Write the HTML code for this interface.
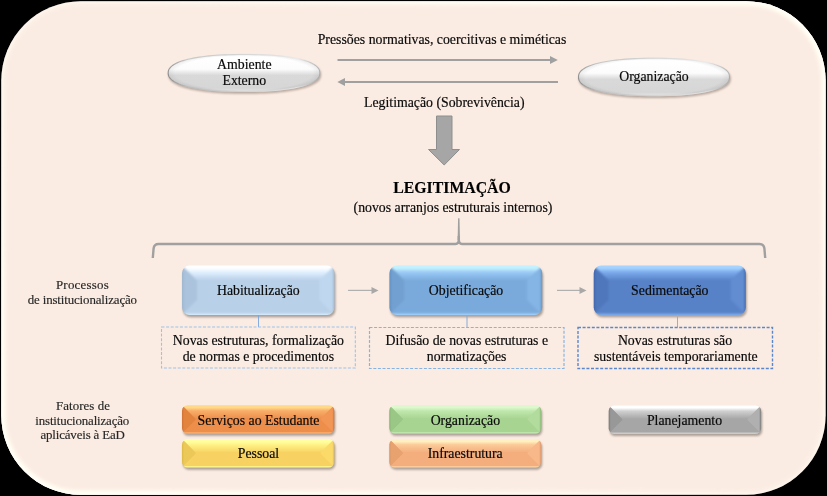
<!DOCTYPE html>
<html><head><meta charset="utf-8"><style>
html,body{margin:0;padding:0;background:#000;width:827px;height:496px;overflow:hidden}
svg{display:block}
text{-webkit-font-smoothing:antialiased}
.txt{will-change:transform}
</style></head><body>
<svg width="827" height="496" viewBox="0 0 827 496">
<defs>
<filter id="blur2" x="-10%" y="-50%" width="120%" height="200%"><feGaussianBlur stdDeviation="1.3"/></filter>
<filter id="soft" x="-10%" y="-50%" width="120%" height="200%"><feGaussianBlur stdDeviation="0.9"/></filter>
<filter id="soft2" x="-10%" y="-50%" width="120%" height="200%"><feGaussianBlur stdDeviation="0.55"/></filter>
<filter id="blur3" x="-10%" y="-10%" width="120%" height="120%"><feGaussianBlur stdDeviation="1.5"/></filter>
<linearGradient id="ell" x1="0" y1="0" x2="0" y2="1">
 <stop offset="0" stop-color="#f2f2f2"/><stop offset="0.08" stop-color="#ffffff"/><stop offset="0.4" stop-color="#fcfcfc"/><stop offset="0.47" stop-color="#ececec"/><stop offset="0.56" stop-color="#d9d9d9"/><stop offset="0.9" stop-color="#d6d6d6"/><stop offset="1" stop-color="#e6e6e6"/>
</linearGradient>
<radialGradient id="ellr" cx="0.5" cy="0.5" r="0.5">
 <stop offset="0" stop-color="#000" stop-opacity="0"/><stop offset="0.9" stop-color="#000" stop-opacity="0"/><stop offset="1" stop-color="#000" stop-opacity="0.06"/>
</radialGradient>
<linearGradient id="ells" x1="0" y1="0" x2="1" y2="0">
 <stop offset="0" stop-color="#7a7a7a"/><stop offset="0.12" stop-color="#b8b8b8"/><stop offset="0.5" stop-color="#d0d0d0"/><stop offset="0.85" stop-color="#e8e8e8"/><stop offset="1" stop-color="#a0a0a0"/>
</linearGradient>
<clipPath id="bgclip"><rect x="1.3" y="1.2" width="824.3" height="493.6" rx="79.5"/></clipPath>
<linearGradient id="rimg" x1="0" y1="0" x2="1" y2="1">
 <stop offset="0" stop-color="#fffcf0" stop-opacity="0.15"/><stop offset="0.5" stop-color="#fffcf0" stop-opacity="1"/><stop offset="1" stop-color="#fffcf0" stop-opacity="0.1"/>
</linearGradient>
<linearGradient id="rimg2" x1="0" y1="0" x2="1" y2="1">
 <stop offset="0" stop-color="#fffdf5" stop-opacity="0.2"/><stop offset="0.5" stop-color="#fffdf5" stop-opacity="1"/><stop offset="1" stop-color="#fffdf5" stop-opacity="0.2"/>
</linearGradient>
<linearGradient id="tp1" x1="0" y1="265.5" x2="0" y2="280.5" gradientUnits="userSpaceOnUse"><stop offset="0" stop-color="#ffffff"/><stop offset="0.18" stop-color="#ffffff"/><stop offset="0.42" stop-color="#e2f1ff"/><stop offset="1" stop-color="#b8d0e8"/></linearGradient>
<linearGradient id="lp1" x1="182" y1="0" x2="197" y2="0" gradientUnits="userSpaceOnUse"><stop offset="0" stop-color="#9cb4cc"/><stop offset="0.15" stop-color="#abc3dc"/><stop offset="1" stop-color="#abc3dc"/></linearGradient>
<linearGradient id="rp1" x1="319.5" y1="0" x2="334.5" y2="0" gradientUnits="userSpaceOnUse"><stop offset="0" stop-color="#c0d8ef"/><stop offset="0.85" stop-color="#c0d8ef"/><stop offset="1" stop-color="#9cb4cc"/></linearGradient>
<clipPath id="cp1"><rect x="182" y="265.5" width="152.5" height="49.5" rx="7.5"/></clipPath>
<linearGradient id="tp2" x1="0" y1="265.5" x2="0" y2="280.5" gradientUnits="userSpaceOnUse"><stop offset="0" stop-color="#c4f2ff"/><stop offset="0.18" stop-color="#c4f2ff"/><stop offset="0.42" stop-color="#9cccf6"/><stop offset="1" stop-color="#7aaadb"/></linearGradient>
<linearGradient id="lp2" x1="389.4" y1="0" x2="404.4" y2="0" gradientUnits="userSpaceOnUse"><stop offset="0" stop-color="#5f8fbf"/><stop offset="0.15" stop-color="#72a0d0"/><stop offset="1" stop-color="#72a0d0"/></linearGradient>
<linearGradient id="rp2" x1="527.2" y1="0" x2="542.2" y2="0" gradientUnits="userSpaceOnUse"><stop offset="0" stop-color="#84b5e5"/><stop offset="0.85" stop-color="#84b5e5"/><stop offset="1" stop-color="#5f8fbf"/></linearGradient>
<clipPath id="cp2"><rect x="389.4" y="265.5" width="152.80000000000007" height="49.5" rx="7.5"/></clipPath>
<linearGradient id="tp3" x1="0" y1="265.5" x2="0" y2="280.5" gradientUnits="userSpaceOnUse"><stop offset="0" stop-color="#a6d4ff"/><stop offset="0.18" stop-color="#a6d4ff"/><stop offset="0.42" stop-color="#7eacee"/><stop offset="1" stop-color="#5882c7"/></linearGradient>
<linearGradient id="lp3" x1="593.7" y1="0" x2="608.7" y2="0" gradientUnits="userSpaceOnUse"><stop offset="0" stop-color="#3c64aa"/><stop offset="0.15" stop-color="#5078bc"/><stop offset="1" stop-color="#5078bc"/></linearGradient>
<linearGradient id="rp3" x1="730.8" y1="0" x2="745.8" y2="0" gradientUnits="userSpaceOnUse"><stop offset="0" stop-color="#628dd1"/><stop offset="0.85" stop-color="#628dd1"/><stop offset="1" stop-color="#3c64aa"/></linearGradient>
<clipPath id="cp3"><rect x="593.7" y="265.5" width="152.0999999999999" height="49.5" rx="7.5"/></clipPath>
<linearGradient id="tf1" x1="0" y1="405.2" x2="0" y2="418.7" gradientUnits="userSpaceOnUse"><stop offset="0" stop-color="#ffd888"/><stop offset="0.18" stop-color="#ffd888"/><stop offset="0.42" stop-color="#f8ae6a"/><stop offset="1" stop-color="#ee8e4c"/></linearGradient>
<linearGradient id="lf1" x1="182" y1="0" x2="195.5" y2="0" gradientUnits="userSpaceOnUse"><stop offset="0" stop-color="#d07236"/><stop offset="0.15" stop-color="#e2843e"/><stop offset="1" stop-color="#e2843e"/></linearGradient>
<linearGradient id="rf1" x1="320.8" y1="0" x2="334.3" y2="0" gradientUnits="userSpaceOnUse"><stop offset="0" stop-color="#f29654"/><stop offset="0.85" stop-color="#f29654"/><stop offset="1" stop-color="#d07236"/></linearGradient>
<clipPath id="cf1"><rect x="182" y="405.2" width="152.3" height="28.400000000000034" rx="5.5"/></clipPath>
<linearGradient id="tf2" x1="0" y1="439.1" x2="0" y2="452.6" gradientUnits="userSpaceOnUse"><stop offset="0" stop-color="#ffffa0"/><stop offset="0.18" stop-color="#ffffa0"/><stop offset="0.42" stop-color="#fff286"/><stop offset="1" stop-color="#f7d262"/></linearGradient>
<linearGradient id="lf2" x1="182" y1="0" x2="195.5" y2="0" gradientUnits="userSpaceOnUse"><stop offset="0" stop-color="#dcb848"/><stop offset="0.15" stop-color="#ecc858"/><stop offset="1" stop-color="#ecc858"/></linearGradient>
<linearGradient id="rf2" x1="320.8" y1="0" x2="334.3" y2="0" gradientUnits="userSpaceOnUse"><stop offset="0" stop-color="#fcda6a"/><stop offset="0.85" stop-color="#fcda6a"/><stop offset="1" stop-color="#dcb848"/></linearGradient>
<clipPath id="cf2"><rect x="182" y="439.1" width="152.3" height="28.399999999999977" rx="5.5"/></clipPath>
<linearGradient id="tf3" x1="0" y1="405.2" x2="0" y2="418.7" gradientUnits="userSpaceOnUse"><stop offset="0" stop-color="#dcf8cc"/><stop offset="0.18" stop-color="#dcf8cc"/><stop offset="0.42" stop-color="#c0e8ae"/><stop offset="1" stop-color="#a8d492"/></linearGradient>
<linearGradient id="lf3" x1="389.3" y1="0" x2="402.8" y2="0" gradientUnits="userSpaceOnUse"><stop offset="0" stop-color="#88b474"/><stop offset="0.15" stop-color="#9ac686"/><stop offset="1" stop-color="#9ac686"/></linearGradient>
<linearGradient id="rf3" x1="527.7" y1="0" x2="541.2" y2="0" gradientUnits="userSpaceOnUse"><stop offset="0" stop-color="#b2dc9e"/><stop offset="0.85" stop-color="#b2dc9e"/><stop offset="1" stop-color="#88b474"/></linearGradient>
<clipPath id="cf3"><rect x="389.3" y="405.2" width="151.90000000000003" height="28.400000000000034" rx="5.5"/></clipPath>
<linearGradient id="tf4" x1="0" y1="439.1" x2="0" y2="452.6" gradientUnits="userSpaceOnUse"><stop offset="0" stop-color="#fff0c0"/><stop offset="0.18" stop-color="#fff0c0"/><stop offset="0.42" stop-color="#fcca98"/><stop offset="1" stop-color="#f4ae7e"/></linearGradient>
<linearGradient id="lf4" x1="389.3" y1="0" x2="402.8" y2="0" gradientUnits="userSpaceOnUse"><stop offset="0" stop-color="#d89468"/><stop offset="0.15" stop-color="#e8a270"/><stop offset="1" stop-color="#e8a270"/></linearGradient>
<linearGradient id="rf4" x1="527.7" y1="0" x2="541.2" y2="0" gradientUnits="userSpaceOnUse"><stop offset="0" stop-color="#f8b88a"/><stop offset="0.85" stop-color="#f8b88a"/><stop offset="1" stop-color="#d89468"/></linearGradient>
<clipPath id="cf4"><rect x="389.3" y="439.1" width="151.90000000000003" height="28.399999999999977" rx="5.5"/></clipPath>
<linearGradient id="tf5" x1="0" y1="405.4" x2="0" y2="418.9" gradientUnits="userSpaceOnUse"><stop offset="0" stop-color="#ffffff"/><stop offset="0.18" stop-color="#ffffff"/><stop offset="0.42" stop-color="#d0d0d0"/><stop offset="1" stop-color="#a6a6a6"/></linearGradient>
<linearGradient id="lf5" x1="608.7" y1="0" x2="622.2" y2="0" gradientUnits="userSpaceOnUse"><stop offset="0" stop-color="#787878"/><stop offset="0.15" stop-color="#989898"/><stop offset="1" stop-color="#989898"/></linearGradient>
<linearGradient id="rf5" x1="747.6" y1="0" x2="761.1" y2="0" gradientUnits="userSpaceOnUse"><stop offset="0" stop-color="#b0b0b0"/><stop offset="0.85" stop-color="#b0b0b0"/><stop offset="1" stop-color="#787878"/></linearGradient>
<clipPath id="cf5"><rect x="608.7" y="405.4" width="152.39999999999998" height="28.400000000000034" rx="5.5"/></clipPath></defs>
<rect x="1.3" y="1.2" width="824.3" height="493.6" rx="79.5" fill="#fbece3"/>
<g clip-path="url(#bgclip)"><rect x="1.3" y="1.2" width="824.3" height="493.6" rx="79.5" fill="none" stroke="url(#rimg)" stroke-width="10" filter="url(#blur3)"/><rect x="1.3" y="1.2" width="824.3" height="493.6" rx="79.5" fill="none" stroke="url(#rimg2)" stroke-width="5.5"/></g>
<path d="M321.10,74.80 L321.01,76.26 L320.74,77.47 L320.28,78.59 L319.65,79.65 L318.83,80.67 L317.84,81.64 L316.67,82.58 L315.33,83.49 L313.81,84.36 L312.13,85.20 L310.28,86.00 L308.26,86.77 L306.08,87.50 L303.74,88.20 L301.25,88.86 L298.60,89.48 L295.81,90.06 L292.87,90.60 L289.78,91.10 L286.56,91.57 L283.20,91.99 L279.70,92.36 L276.06,92.70 L272.28,92.99 L268.36,93.24 L264.27,93.44 L260.00,93.60 L255.51,93.71 L250.67,93.78 L244.80,93.80 L238.93,93.78 L234.09,93.71 L229.60,93.60 L225.33,93.44 L221.24,93.24 L217.32,92.99 L213.54,92.70 L209.90,92.36 L206.40,91.99 L203.04,91.57 L199.82,91.10 L196.73,90.60 L193.79,90.06 L191.00,89.48 L188.35,88.86 L185.86,88.20 L183.52,87.50 L181.34,86.77 L179.32,86.00 L177.47,85.20 L175.79,84.36 L174.27,83.49 L172.93,82.58 L171.76,81.64 L170.77,80.67 L169.95,79.65 L169.32,78.59 L168.86,77.47 L168.59,76.26 L168.50,74.80 L168.59,73.34 L168.86,72.13 L169.32,71.01 L169.95,69.95 L170.77,68.93 L171.76,67.96 L172.93,67.02 L174.27,66.11 L175.79,65.24 L177.47,64.40 L179.32,63.60 L181.34,62.83 L183.52,62.10 L185.86,61.40 L188.35,60.74 L191.00,60.12 L193.79,59.54 L196.73,59.00 L199.82,58.50 L203.04,58.03 L206.40,57.61 L209.90,57.24 L213.54,56.90 L217.32,56.61 L221.24,56.36 L225.33,56.16 L229.60,56.00 L234.09,55.89 L238.93,55.82 L244.80,55.80 L250.67,55.82 L255.51,55.89 L260.00,56.00 L264.27,56.16 L268.36,56.36 L272.28,56.61 L276.06,56.90 L279.70,57.24 L283.20,57.61 L286.56,58.03 L289.78,58.50 L292.87,59.00 L295.81,59.54 L298.60,60.12 L301.25,60.74 L303.74,61.40 L306.08,62.10 L308.26,62.83 L310.28,63.60 L312.13,64.40 L313.81,65.24 L315.33,66.11 L316.67,67.02 L317.84,67.96 L318.83,68.93 L319.65,69.95 L320.28,71.01 L320.74,72.13 L321.01,73.34Z" fill="#5a4a40" opacity="0.42" filter="url(#blur2)"/><path d="M320.30,73.00 L320.21,74.46 L319.94,75.67 L319.48,76.79 L318.85,77.85 L318.03,78.87 L317.04,79.84 L315.87,80.78 L314.53,81.69 L313.01,82.56 L311.33,83.40 L309.48,84.20 L307.46,84.97 L305.28,85.70 L302.94,86.40 L300.45,87.06 L297.80,87.68 L295.01,88.26 L292.07,88.80 L288.98,89.30 L285.76,89.77 L282.40,90.19 L278.90,90.56 L275.26,90.90 L271.48,91.19 L267.56,91.44 L263.47,91.64 L259.20,91.80 L254.71,91.91 L249.87,91.98 L244.00,92.00 L238.13,91.98 L233.29,91.91 L228.80,91.80 L224.53,91.64 L220.44,91.44 L216.52,91.19 L212.74,90.90 L209.10,90.56 L205.60,90.19 L202.24,89.77 L199.02,89.30 L195.93,88.80 L192.99,88.26 L190.20,87.68 L187.55,87.06 L185.06,86.40 L182.72,85.70 L180.54,84.97 L178.52,84.20 L176.67,83.40 L174.99,82.56 L173.47,81.69 L172.13,80.78 L170.96,79.84 L169.97,78.87 L169.15,77.85 L168.52,76.79 L168.06,75.67 L167.79,74.46 L167.70,73.00 L167.79,71.54 L168.06,70.33 L168.52,69.21 L169.15,68.15 L169.97,67.13 L170.96,66.16 L172.13,65.22 L173.47,64.31 L174.99,63.44 L176.67,62.60 L178.52,61.80 L180.54,61.03 L182.72,60.30 L185.06,59.60 L187.55,58.94 L190.20,58.32 L192.99,57.74 L195.93,57.20 L199.02,56.70 L202.24,56.23 L205.60,55.81 L209.10,55.44 L212.74,55.10 L216.52,54.81 L220.44,54.56 L224.53,54.36 L228.80,54.20 L233.29,54.09 L238.13,54.02 L244.00,54.00 L249.87,54.02 L254.71,54.09 L259.20,54.20 L263.47,54.36 L267.56,54.56 L271.48,54.81 L275.26,55.10 L278.90,55.44 L282.40,55.81 L285.76,56.23 L288.98,56.70 L292.07,57.20 L295.01,57.74 L297.80,58.32 L300.45,58.94 L302.94,59.60 L305.28,60.30 L307.46,61.03 L309.48,61.80 L311.33,62.60 L313.01,63.44 L314.53,64.31 L315.87,65.22 L317.04,66.16 L318.03,67.13 L318.85,68.15 L319.48,69.21 L319.94,70.33 L320.21,71.54Z" fill="url(#ell)"/><path d="M320.30,73.00 L320.21,74.46 L319.94,75.67 L319.48,76.79 L318.85,77.85 L318.03,78.87 L317.04,79.84 L315.87,80.78 L314.53,81.69 L313.01,82.56 L311.33,83.40 L309.48,84.20 L307.46,84.97 L305.28,85.70 L302.94,86.40 L300.45,87.06 L297.80,87.68 L295.01,88.26 L292.07,88.80 L288.98,89.30 L285.76,89.77 L282.40,90.19 L278.90,90.56 L275.26,90.90 L271.48,91.19 L267.56,91.44 L263.47,91.64 L259.20,91.80 L254.71,91.91 L249.87,91.98 L244.00,92.00 L238.13,91.98 L233.29,91.91 L228.80,91.80 L224.53,91.64 L220.44,91.44 L216.52,91.19 L212.74,90.90 L209.10,90.56 L205.60,90.19 L202.24,89.77 L199.02,89.30 L195.93,88.80 L192.99,88.26 L190.20,87.68 L187.55,87.06 L185.06,86.40 L182.72,85.70 L180.54,84.97 L178.52,84.20 L176.67,83.40 L174.99,82.56 L173.47,81.69 L172.13,80.78 L170.96,79.84 L169.97,78.87 L169.15,77.85 L168.52,76.79 L168.06,75.67 L167.79,74.46 L167.70,73.00 L167.79,71.54 L168.06,70.33 L168.52,69.21 L169.15,68.15 L169.97,67.13 L170.96,66.16 L172.13,65.22 L173.47,64.31 L174.99,63.44 L176.67,62.60 L178.52,61.80 L180.54,61.03 L182.72,60.30 L185.06,59.60 L187.55,58.94 L190.20,58.32 L192.99,57.74 L195.93,57.20 L199.02,56.70 L202.24,56.23 L205.60,55.81 L209.10,55.44 L212.74,55.10 L216.52,54.81 L220.44,54.56 L224.53,54.36 L228.80,54.20 L233.29,54.09 L238.13,54.02 L244.00,54.00 L249.87,54.02 L254.71,54.09 L259.20,54.20 L263.47,54.36 L267.56,54.56 L271.48,54.81 L275.26,55.10 L278.90,55.44 L282.40,55.81 L285.76,56.23 L288.98,56.70 L292.07,57.20 L295.01,57.74 L297.80,58.32 L300.45,58.94 L302.94,59.60 L305.28,60.30 L307.46,61.03 L309.48,61.80 L311.33,62.60 L313.01,63.44 L314.53,64.31 L315.87,65.22 L317.04,66.16 L318.03,67.13 L318.85,68.15 L319.48,69.21 L319.94,70.33 L320.21,71.54Z" fill="url(#ellr)"/><path d="M319.80,73.00 L319.71,74.42 L319.44,75.60 L318.99,76.69 L318.36,77.72 L317.55,78.71 L316.56,79.66 L315.40,80.58 L314.07,81.46 L312.56,82.31 L310.89,83.13 L309.05,83.91 L307.04,84.65 L304.88,85.37 L302.55,86.04 L300.08,86.69 L297.45,87.29 L294.67,87.86 L291.75,88.39 L288.69,88.88 L285.49,89.32 L282.15,89.73 L278.67,90.10 L275.05,90.43 L271.30,90.71 L267.40,90.95 L263.34,91.15 L259.10,91.30 L254.64,91.41 L249.83,91.48 L244.00,91.50 L238.17,91.48 L233.36,91.41 L228.90,91.30 L224.66,91.15 L220.60,90.95 L216.70,90.71 L212.95,90.43 L209.33,90.10 L205.85,89.73 L202.51,89.32 L199.31,88.88 L196.25,88.39 L193.33,87.86 L190.55,87.29 L187.92,86.69 L185.45,86.04 L183.12,85.37 L180.96,84.65 L178.95,83.91 L177.11,83.13 L175.44,82.31 L173.93,81.46 L172.60,80.58 L171.44,79.66 L170.45,78.71 L169.64,77.72 L169.01,76.69 L168.56,75.60 L168.29,74.42 L168.20,73.00 L168.29,71.58 L168.56,70.40 L169.01,69.31 L169.64,68.28 L170.45,67.29 L171.44,66.34 L172.60,65.42 L173.93,64.54 L175.44,63.69 L177.11,62.87 L178.95,62.09 L180.96,61.35 L183.12,60.63 L185.45,59.96 L187.92,59.31 L190.55,58.71 L193.33,58.14 L196.25,57.61 L199.31,57.12 L202.51,56.68 L205.85,56.27 L209.33,55.90 L212.95,55.57 L216.70,55.29 L220.60,55.05 L224.66,54.85 L228.90,54.70 L233.36,54.59 L238.17,54.52 L244.00,54.50 L249.83,54.52 L254.64,54.59 L259.10,54.70 L263.34,54.85 L267.40,55.05 L271.30,55.29 L275.05,55.57 L278.67,55.90 L282.15,56.27 L285.49,56.68 L288.69,57.12 L291.75,57.61 L294.67,58.14 L297.45,58.71 L300.08,59.31 L302.55,59.96 L304.88,60.63 L307.04,61.35 L309.05,62.09 L310.89,62.87 L312.56,63.69 L314.07,64.54 L315.40,65.42 L316.56,66.34 L317.55,67.29 L318.36,68.28 L318.99,69.31 L319.44,70.40 L319.71,71.58Z" fill="none" stroke="url(#ells)" stroke-width="1.1" opacity="0.75"/>
<path d="M730.80,78.80 L730.71,80.28 L730.44,81.49 L729.99,82.63 L729.35,83.70 L728.54,84.73 L727.55,85.72 L726.39,86.67 L725.05,87.58 L723.54,88.46 L721.86,89.31 L720.02,90.12 L718.01,90.90 L715.84,91.64 L713.51,92.34 L711.03,93.00 L708.39,93.63 L705.61,94.22 L702.68,94.77 L699.61,95.28 L696.40,95.74 L693.05,96.17 L689.56,96.55 L685.94,96.89 L682.17,97.18 L678.26,97.43 L674.19,97.63 L669.94,97.79 L665.47,97.91 L660.64,97.98 L654.80,98.00 L648.96,97.98 L644.13,97.91 L639.66,97.79 L635.41,97.63 L631.34,97.43 L627.43,97.18 L623.66,96.89 L620.04,96.55 L616.55,96.17 L613.20,95.74 L609.99,95.28 L606.92,94.77 L603.99,94.22 L601.21,93.63 L598.57,93.00 L596.09,92.34 L593.76,91.64 L591.59,90.90 L589.58,90.12 L587.74,89.31 L586.06,88.46 L584.55,87.58 L583.21,86.67 L582.05,85.72 L581.06,84.73 L580.25,83.70 L579.61,82.63 L579.16,81.49 L578.89,80.28 L578.80,78.80 L578.89,77.32 L579.16,76.11 L579.61,74.97 L580.25,73.90 L581.06,72.87 L582.05,71.88 L583.21,70.93 L584.55,70.02 L586.06,69.14 L587.74,68.29 L589.58,67.48 L591.59,66.70 L593.76,65.96 L596.09,65.26 L598.57,64.60 L601.21,63.97 L603.99,63.38 L606.92,62.83 L609.99,62.32 L613.20,61.86 L616.55,61.43 L620.04,61.05 L623.66,60.71 L627.43,60.42 L631.34,60.17 L635.41,59.97 L639.66,59.81 L644.13,59.69 L648.96,59.62 L654.80,59.60 L660.64,59.62 L665.47,59.69 L669.94,59.81 L674.19,59.97 L678.26,60.17 L682.17,60.42 L685.94,60.71 L689.56,61.05 L693.05,61.43 L696.40,61.86 L699.61,62.32 L702.68,62.83 L705.61,63.38 L708.39,63.97 L711.03,64.60 L713.51,65.26 L715.84,65.96 L718.01,66.70 L720.02,67.48 L721.86,68.29 L723.54,69.14 L725.05,70.02 L726.39,70.93 L727.55,71.88 L728.54,72.87 L729.35,73.90 L729.99,74.97 L730.44,76.11 L730.71,77.32Z" fill="#5a4a40" opacity="0.42" filter="url(#blur2)"/><path d="M730.00,77.00 L729.91,78.48 L729.64,79.69 L729.19,80.83 L728.55,81.90 L727.74,82.93 L726.75,83.92 L725.59,84.87 L724.25,85.78 L722.74,86.66 L721.06,87.51 L719.22,88.32 L717.21,89.10 L715.04,89.84 L712.71,90.54 L710.23,91.20 L707.59,91.83 L704.81,92.42 L701.88,92.97 L698.81,93.48 L695.60,93.94 L692.25,94.37 L688.76,94.75 L685.14,95.09 L681.37,95.38 L677.46,95.63 L673.39,95.83 L669.14,95.99 L664.67,96.11 L659.84,96.18 L654.00,96.20 L648.16,96.18 L643.33,96.11 L638.86,95.99 L634.61,95.83 L630.54,95.63 L626.63,95.38 L622.86,95.09 L619.24,94.75 L615.75,94.37 L612.40,93.94 L609.19,93.48 L606.12,92.97 L603.19,92.42 L600.41,91.83 L597.77,91.20 L595.29,90.54 L592.96,89.84 L590.79,89.10 L588.78,88.32 L586.94,87.51 L585.26,86.66 L583.75,85.78 L582.41,84.87 L581.25,83.92 L580.26,82.93 L579.45,81.90 L578.81,80.83 L578.36,79.69 L578.09,78.48 L578.00,77.00 L578.09,75.52 L578.36,74.31 L578.81,73.17 L579.45,72.10 L580.26,71.07 L581.25,70.08 L582.41,69.13 L583.75,68.22 L585.26,67.34 L586.94,66.49 L588.78,65.68 L590.79,64.90 L592.96,64.16 L595.29,63.46 L597.77,62.80 L600.41,62.17 L603.19,61.58 L606.12,61.03 L609.19,60.52 L612.40,60.06 L615.75,59.63 L619.24,59.25 L622.86,58.91 L626.63,58.62 L630.54,58.37 L634.61,58.17 L638.86,58.01 L643.33,57.89 L648.16,57.82 L654.00,57.80 L659.84,57.82 L664.67,57.89 L669.14,58.01 L673.39,58.17 L677.46,58.37 L681.37,58.62 L685.14,58.91 L688.76,59.25 L692.25,59.63 L695.60,60.06 L698.81,60.52 L701.88,61.03 L704.81,61.58 L707.59,62.17 L710.23,62.80 L712.71,63.46 L715.04,64.16 L717.21,64.90 L719.22,65.68 L721.06,66.49 L722.74,67.34 L724.25,68.22 L725.59,69.13 L726.75,70.08 L727.74,71.07 L728.55,72.10 L729.19,73.17 L729.64,74.31 L729.91,75.52Z" fill="url(#ell)"/><path d="M730.00,77.00 L729.91,78.48 L729.64,79.69 L729.19,80.83 L728.55,81.90 L727.74,82.93 L726.75,83.92 L725.59,84.87 L724.25,85.78 L722.74,86.66 L721.06,87.51 L719.22,88.32 L717.21,89.10 L715.04,89.84 L712.71,90.54 L710.23,91.20 L707.59,91.83 L704.81,92.42 L701.88,92.97 L698.81,93.48 L695.60,93.94 L692.25,94.37 L688.76,94.75 L685.14,95.09 L681.37,95.38 L677.46,95.63 L673.39,95.83 L669.14,95.99 L664.67,96.11 L659.84,96.18 L654.00,96.20 L648.16,96.18 L643.33,96.11 L638.86,95.99 L634.61,95.83 L630.54,95.63 L626.63,95.38 L622.86,95.09 L619.24,94.75 L615.75,94.37 L612.40,93.94 L609.19,93.48 L606.12,92.97 L603.19,92.42 L600.41,91.83 L597.77,91.20 L595.29,90.54 L592.96,89.84 L590.79,89.10 L588.78,88.32 L586.94,87.51 L585.26,86.66 L583.75,85.78 L582.41,84.87 L581.25,83.92 L580.26,82.93 L579.45,81.90 L578.81,80.83 L578.36,79.69 L578.09,78.48 L578.00,77.00 L578.09,75.52 L578.36,74.31 L578.81,73.17 L579.45,72.10 L580.26,71.07 L581.25,70.08 L582.41,69.13 L583.75,68.22 L585.26,67.34 L586.94,66.49 L588.78,65.68 L590.79,64.90 L592.96,64.16 L595.29,63.46 L597.77,62.80 L600.41,62.17 L603.19,61.58 L606.12,61.03 L609.19,60.52 L612.40,60.06 L615.75,59.63 L619.24,59.25 L622.86,58.91 L626.63,58.62 L630.54,58.37 L634.61,58.17 L638.86,58.01 L643.33,57.89 L648.16,57.82 L654.00,57.80 L659.84,57.82 L664.67,57.89 L669.14,58.01 L673.39,58.17 L677.46,58.37 L681.37,58.62 L685.14,58.91 L688.76,59.25 L692.25,59.63 L695.60,60.06 L698.81,60.52 L701.88,61.03 L704.81,61.58 L707.59,62.17 L710.23,62.80 L712.71,63.46 L715.04,64.16 L717.21,64.90 L719.22,65.68 L721.06,66.49 L722.74,67.34 L724.25,68.22 L725.59,69.13 L726.75,70.08 L727.74,71.07 L728.55,72.10 L729.19,73.17 L729.64,74.31 L729.91,75.52Z" fill="url(#ellr)"/><path d="M729.50,77.00 L729.41,78.44 L729.14,79.62 L728.69,80.73 L728.06,81.77 L727.26,82.77 L726.28,83.74 L725.12,84.66 L723.79,85.55 L722.29,86.41 L720.62,87.23 L718.79,88.02 L716.79,88.78 L714.64,89.50 L712.32,90.19 L709.86,90.83 L707.24,91.45 L704.47,92.02 L701.56,92.55 L698.51,93.05 L695.32,93.50 L692.00,93.91 L688.53,94.29 L684.93,94.62 L681.19,94.90 L677.31,95.14 L673.27,95.34 L669.04,95.50 L664.60,95.61 L659.81,95.68 L654.00,95.70 L648.19,95.68 L643.40,95.61 L638.96,95.50 L634.73,95.34 L630.69,95.14 L626.81,94.90 L623.07,94.62 L619.47,94.29 L616.00,93.91 L612.68,93.50 L609.49,93.05 L606.44,92.55 L603.53,92.02 L600.76,91.45 L598.14,90.83 L595.68,90.19 L593.36,89.50 L591.21,88.78 L589.21,88.02 L587.38,87.23 L585.71,86.41 L584.21,85.55 L582.88,84.66 L581.72,83.74 L580.74,82.77 L579.94,81.77 L579.31,80.73 L578.86,79.62 L578.59,78.44 L578.50,77.00 L578.59,75.56 L578.86,74.38 L579.31,73.27 L579.94,72.23 L580.74,71.23 L581.72,70.26 L582.88,69.34 L584.21,68.45 L585.71,67.59 L587.38,66.77 L589.21,65.98 L591.21,65.22 L593.36,64.50 L595.68,63.81 L598.14,63.17 L600.76,62.55 L603.53,61.98 L606.44,61.45 L609.49,60.95 L612.68,60.50 L616.00,60.09 L619.47,59.71 L623.07,59.38 L626.81,59.10 L630.69,58.86 L634.73,58.66 L638.96,58.50 L643.40,58.39 L648.19,58.32 L654.00,58.30 L659.81,58.32 L664.60,58.39 L669.04,58.50 L673.27,58.66 L677.31,58.86 L681.19,59.10 L684.93,59.38 L688.53,59.71 L692.00,60.09 L695.32,60.50 L698.51,60.95 L701.56,61.45 L704.47,61.98 L707.24,62.55 L709.86,63.17 L712.32,63.81 L714.64,64.50 L716.79,65.22 L718.79,65.98 L720.62,66.77 L722.29,67.59 L723.79,68.45 L725.12,69.34 L726.28,70.26 L727.26,71.23 L728.06,72.23 L728.69,73.27 L729.14,74.38 L729.41,75.56Z" fill="none" stroke="url(#ells)" stroke-width="1.1" opacity="0.75"/>
<line x1="337.5" y1="60" x2="552" y2="60" stroke="#a0a0a0" stroke-width="2"/>
<polygon points="557.8,60 550,56 550,64" fill="#a0a0a0"/>
<line x1="343" y1="82" x2="558" y2="82" stroke="#a0a0a0" stroke-width="2"/>
<polygon points="337.3,82 345,78 345,86" fill="#a0a0a0"/>
<polygon points="436.5,116 452,116 452,149.5 459.5,149.5 444.2,165 428.5,149.5 436.5,149.5" fill="#a6a6a6" stroke="#8e8e8e" stroke-width="1"/>
<path d="M152.8,258 L153.6,248.5 Q154.2,244 158.5,244 L455.5,244 Q458.8,243.8 458.8,239.5 L458.8,236 M458.8,239.5 Q458.8,243.8 462,244 L759.5,244 Q763.8,244 764.4,248.5 L765.2,258" fill="none" stroke="#a0a0a0" stroke-width="2.4"/>
<path d="M457.6,240 L458.1,218.3 L459.5,218.3 L460,240 Z" fill="#a0a0a0"/>
<rect x="183" y="267.7" width="152.5" height="49.5" rx="7.5" fill="#4a4038" opacity="0.45" filter="url(#blur2)"/>
<g clip-path="url(#cp1)"><g filter="url(#soft)">
<rect x="176" y="259.5" width="164.5" height="61.5" fill="#b8d0e8"/>
<polygon points="176,259.5 340.5,259.5 319.5,280.5 197,280.5" fill="url(#tp1)"/>
<polygon points="176,259.5 197,280.5 197,300 176,321" fill="url(#lp1)"/>
<polygon points="340.5,259.5 319.5,280.5 319.5,300 340.5,321" fill="url(#rp1)"/>
<polygon points="176,321 197,300 319.5,300 340.5,321" fill="#b8d0e8"/>
<rect x="176" y="259.5" width="164.5" height="7.8" fill="#ffffff"/>
<rect x="176" y="313.8" width="164.5" height="7.2" fill="#d8efff"/>
</g></g>
<rect x="390.4" y="267.7" width="152.80000000000007" height="49.5" rx="7.5" fill="#4a4038" opacity="0.45" filter="url(#blur2)"/>
<g clip-path="url(#cp2)"><g filter="url(#soft)">
<rect x="383.4" y="259.5" width="164.80000000000007" height="61.5" fill="#7aaadb"/>
<polygon points="383.4,259.5 548.2,259.5 527.2,280.5 404.4,280.5" fill="url(#tp2)"/>
<polygon points="383.4,259.5 404.4,280.5 404.4,300 383.4,321" fill="url(#lp2)"/>
<polygon points="548.2,259.5 527.2,280.5 527.2,300 548.2,321" fill="url(#rp2)"/>
<polygon points="383.4,321 404.4,300 527.2,300 548.2,321" fill="#7aaadb"/>
<rect x="383.4" y="259.5" width="164.80000000000007" height="7.8" fill="#c4f2ff"/>
<rect x="383.4" y="313.8" width="164.80000000000007" height="7.2" fill="#a6d6ff"/>
</g></g>
<rect x="594.7" y="267.7" width="152.0999999999999" height="49.5" rx="7.5" fill="#4a4038" opacity="0.45" filter="url(#blur2)"/>
<g clip-path="url(#cp3)"><g filter="url(#soft)">
<rect x="587.7" y="259.5" width="164.0999999999999" height="61.5" fill="#5882c7"/>
<polygon points="587.7,259.5 751.8,259.5 730.8,280.5 608.7,280.5" fill="url(#tp3)"/>
<polygon points="587.7,259.5 608.7,280.5 608.7,300 587.7,321" fill="url(#lp3)"/>
<polygon points="751.8,259.5 730.8,280.5 730.8,300 751.8,321" fill="url(#rp3)"/>
<polygon points="587.7,321 608.7,300 730.8,300 751.8,321" fill="#5882c7"/>
<rect x="587.7" y="259.5" width="164.0999999999999" height="7.8" fill="#a6d4ff"/>
<rect x="587.7" y="313.8" width="164.0999999999999" height="7.2" fill="#80b0f0"/>
</g></g>
<line x1="348" y1="290.4" x2="372" y2="290.4" stroke="#b0b0b0" stroke-width="1.2"/>
<polygon points="378.5,290.4 371.5,287 371.5,294" fill="#a8a8a8"/>
<line x1="557" y1="290.4" x2="580" y2="290.4" stroke="#b0b0b0" stroke-width="1.2"/>
<polygon points="586.5,290.4 579.5,287 579.5,294" fill="#a8a8a8"/>
<line x1="258.5" y1="315" x2="258.5" y2="327" stroke="#78a6dc" stroke-width="0.9"/>
<line x1="467" y1="315" x2="467" y2="327.5" stroke="#88aad0" stroke-width="1"/>
<line x1="677.5" y1="315" x2="677.5" y2="327.5" stroke="#8ab2da" stroke-width="1"/>
<rect x="161.5" y="327" width="193.8" height="41" fill="none" stroke="#9cc2e8" stroke-width="1.1" stroke-dasharray="3,1.6"/>
<rect x="369.5" y="327.5" width="194.5" height="41" fill="none" stroke="#86b4e2" stroke-width="1.2" stroke-dasharray="3,1.6"/>
<rect x="578" y="327.5" width="194.5" height="41" fill="none" stroke="#5a86cc" stroke-width="1.4" stroke-dasharray="3,1.6"/>
<rect x="183" y="407.4" width="152.3" height="28.400000000000034" rx="5.5" fill="#4a4038" opacity="0.45" filter="url(#blur2)"/>
<g clip-path="url(#cf1)"><g filter="url(#soft2)">
<rect x="176" y="399.2" width="164.3" height="40.400000000000034" fill="#ee8e4c"/>
<polygon points="176,399.2 340.3,399.2 320.8,418.7 195.5,418.7" fill="url(#tf1)"/>
<polygon points="176,399.2 195.5,418.7 195.5,420.1 176,439.6" fill="url(#lf1)"/>
<polygon points="340.3,399.2 320.8,418.7 320.8,420.1 340.3,439.6" fill="url(#rf1)"/>
<polygon points="176,439.6 195.5,420.1 320.8,420.1 340.3,439.6" fill="#ee8e4c"/>
<rect x="176" y="399.2" width="164.3" height="7.8" fill="#ffd888"/>
<rect x="176" y="432.40000000000003" width="164.3" height="7.2" fill="#ffb878"/>
</g></g>
<rect x="183" y="441.3" width="152.3" height="28.399999999999977" rx="5.5" fill="#4a4038" opacity="0.45" filter="url(#blur2)"/>
<g clip-path="url(#cf2)"><g filter="url(#soft2)">
<rect x="176" y="433.1" width="164.3" height="40.39999999999998" fill="#f7d262"/>
<polygon points="176,433.1 340.3,433.1 320.8,452.6 195.5,452.6" fill="url(#tf2)"/>
<polygon points="176,433.1 195.5,452.6 195.5,454.0 176,473.5" fill="url(#lf2)"/>
<polygon points="340.3,433.1 320.8,452.6 320.8,454.0 340.3,473.5" fill="url(#rf2)"/>
<polygon points="176,473.5 195.5,454.0 320.8,454.0 340.3,473.5" fill="#f7d262"/>
<rect x="176" y="433.1" width="164.3" height="7.8" fill="#ffffa0"/>
<rect x="176" y="466.3" width="164.3" height="7.2" fill="#ffff98"/>
</g></g>
<rect x="390.3" y="407.4" width="151.90000000000003" height="28.400000000000034" rx="5.5" fill="#4a4038" opacity="0.45" filter="url(#blur2)"/>
<g clip-path="url(#cf3)"><g filter="url(#soft2)">
<rect x="383.3" y="399.2" width="163.90000000000003" height="40.400000000000034" fill="#a8d492"/>
<polygon points="383.3,399.2 547.2,399.2 527.7,418.7 402.8,418.7" fill="url(#tf3)"/>
<polygon points="383.3,399.2 402.8,418.7 402.8,420.1 383.3,439.6" fill="url(#lf3)"/>
<polygon points="547.2,399.2 527.7,418.7 527.7,420.1 547.2,439.6" fill="url(#rf3)"/>
<polygon points="383.3,439.6 402.8,420.1 527.7,420.1 547.2,439.6" fill="#a8d492"/>
<rect x="383.3" y="399.2" width="163.90000000000003" height="7.8" fill="#dcf8cc"/>
<rect x="383.3" y="432.40000000000003" width="163.90000000000003" height="7.2" fill="#ccf0bc"/>
</g></g>
<rect x="390.3" y="441.3" width="151.90000000000003" height="28.399999999999977" rx="5.5" fill="#4a4038" opacity="0.45" filter="url(#blur2)"/>
<g clip-path="url(#cf4)"><g filter="url(#soft2)">
<rect x="383.3" y="433.1" width="163.90000000000003" height="40.39999999999998" fill="#f4ae7e"/>
<polygon points="383.3,433.1 547.2,433.1 527.7,452.6 402.8,452.6" fill="url(#tf4)"/>
<polygon points="383.3,433.1 402.8,452.6 402.8,454.0 383.3,473.5" fill="url(#lf4)"/>
<polygon points="547.2,433.1 527.7,452.6 527.7,454.0 547.2,473.5" fill="url(#rf4)"/>
<polygon points="383.3,473.5 402.8,454.0 527.7,454.0 547.2,473.5" fill="#f4ae7e"/>
<rect x="383.3" y="433.1" width="163.90000000000003" height="7.8" fill="#fff0c0"/>
<rect x="383.3" y="466.3" width="163.90000000000003" height="7.2" fill="#ffd8a8"/>
</g></g>
<rect x="609.7" y="407.59999999999997" width="152.39999999999998" height="28.400000000000034" rx="5.5" fill="#4a4038" opacity="0.45" filter="url(#blur2)"/>
<g clip-path="url(#cf5)"><g filter="url(#soft2)">
<rect x="602.7" y="399.4" width="164.39999999999998" height="40.400000000000034" fill="#a6a6a6"/>
<polygon points="602.7,399.4 767.1,399.4 747.6,418.9 622.2,418.9" fill="url(#tf5)"/>
<polygon points="602.7,399.4 622.2,418.9 622.2,420.3 602.7,439.8" fill="url(#lf5)"/>
<polygon points="767.1,399.4 747.6,418.9 747.6,420.3 767.1,439.8" fill="url(#rf5)"/>
<polygon points="602.7,439.8 622.2,420.3 747.6,420.3 767.1,439.8" fill="#a6a6a6"/>
<rect x="602.7" y="399.4" width="164.39999999999998" height="7.8" fill="#ffffff"/>
<rect x="602.7" y="432.6" width="164.39999999999998" height="7.2" fill="#d8d8d8"/>
</g></g>
<g opacity="0.999"><text x="244.3" y="69.2" font-family="'Liberation Serif', serif" font-size="13.8" font-weight="400" fill="#0a0a0a" letter-spacing="0" stroke="#0a0a0a" stroke-width="0.18" text-anchor="middle" xml:space="preserve">Ambiente</text>
<text x="244.3" y="85.2" font-family="'Liberation Serif', serif" font-size="13.8" font-weight="400" fill="#0a0a0a" letter-spacing="0" stroke="#0a0a0a" stroke-width="0.18" text-anchor="middle" xml:space="preserve">Externo</text>
<text x="654" y="81.3" font-family="'Liberation Serif', serif" font-size="13.8" font-weight="400" fill="#0a0a0a" letter-spacing="0" stroke="#0a0a0a" stroke-width="0.18" text-anchor="middle" xml:space="preserve">Organização</text>
<text x="442" y="43.8" font-family="'Liberation Serif', serif" font-size="13.8" font-weight="400" fill="#0a0a0a" letter-spacing="0" stroke="#0a0a0a" stroke-width="0.18" text-anchor="middle" xml:space="preserve">Pressões normativas, coercitivas e miméticas</text>
<text x="444.3" y="106.5" font-family="'Liberation Serif', serif" font-size="13.8" font-weight="400" fill="#0a0a0a" letter-spacing="0" stroke="#0a0a0a" stroke-width="0.18" text-anchor="middle" xml:space="preserve">Legitimação (Sobrevivência)</text>
<text x="452" y="192.8" font-family="'Liberation Serif', serif" font-size="15.8" font-weight="700" fill="#000" letter-spacing="0" stroke="#000" stroke-width="0.15" text-anchor="middle" xml:space="preserve">LEGITIMAÇÃO</text>
<text x="453" y="212.4" font-family="'Liberation Serif', serif" font-size="13.8" font-weight="400" fill="#0a0a0a" letter-spacing="0" stroke="#0a0a0a" stroke-width="0.18" text-anchor="middle" xml:space="preserve">(novos arranjos estruturais internos)</text>
<text x="82.5" y="288.7" font-family="'Liberation Serif', serif" font-size="12.9" font-weight="400" fill="#262626" letter-spacing="0.25" stroke="#262626" stroke-width="0.15" text-anchor="middle" xml:space="preserve">Processos</text>
<text x="82.3" y="303.8" font-family="'Liberation Serif', serif" font-size="12.9" font-weight="400" fill="#262626" letter-spacing="-0.13" stroke="#262626" stroke-width="0.15" text-anchor="middle" xml:space="preserve">de institucionalização</text>
<text x="83" y="409.9" font-family="'Liberation Serif', serif" font-size="12.9" font-weight="400" fill="#262626" letter-spacing="0.05" stroke="#262626" stroke-width="0.15" text-anchor="middle" xml:space="preserve">Fatores de</text>
<text x="82.2" y="424.9" font-family="'Liberation Serif', serif" font-size="12.9" font-weight="400" fill="#262626" letter-spacing="-0.15" stroke="#262626" stroke-width="0.15" text-anchor="middle" xml:space="preserve">institucionalização</text>
<text x="82.6" y="439.2" font-family="'Liberation Serif', serif" font-size="12.9" font-weight="400" fill="#262626" letter-spacing="-0.15" stroke="#262626" stroke-width="0.15" text-anchor="middle" xml:space="preserve">aplicáveis à EaD</text>
<text x="258.3" y="295" font-family="'Liberation Serif', serif" font-size="13.8" font-weight="400" fill="#0a0a0a" letter-spacing="0" stroke="#0a0a0a" stroke-width="0.18" text-anchor="middle" xml:space="preserve">Habitualização</text>
<text x="466" y="295" font-family="'Liberation Serif', serif" font-size="13.8" font-weight="400" fill="#0a0a0a" letter-spacing="0" stroke="#0a0a0a" stroke-width="0.18" text-anchor="middle" xml:space="preserve">Objetificação</text>
<text x="669.8" y="295" font-family="'Liberation Serif', serif" font-size="13.8" font-weight="400" fill="#0a0a0a" letter-spacing="0" stroke="#0a0a0a" stroke-width="0.18" text-anchor="middle" xml:space="preserve">Sedimentação</text>
<text x="258.4" y="345.2" font-family="'Liberation Serif', serif" font-size="13.8" font-weight="400" fill="#0a0a0a" letter-spacing="0" stroke="#0a0a0a" stroke-width="0.18" text-anchor="middle" xml:space="preserve">Novas estruturas, formalização</text>
<text x="258.4" y="361" font-family="'Liberation Serif', serif" font-size="13.8" font-weight="400" fill="#0a0a0a" letter-spacing="0" stroke="#0a0a0a" stroke-width="0.18" text-anchor="middle" xml:space="preserve">de normas e procedimentos</text>
<text x="466.8" y="345.2" font-family="'Liberation Serif', serif" font-size="13.8" font-weight="400" fill="#0a0a0a" letter-spacing="0" stroke="#0a0a0a" stroke-width="0.18" text-anchor="middle" xml:space="preserve">Difusão de novas estruturas e</text>
<text x="466.6" y="361" font-family="'Liberation Serif', serif" font-size="13.8" font-weight="400" fill="#0a0a0a" letter-spacing="0" stroke="#0a0a0a" stroke-width="0.18" text-anchor="middle" xml:space="preserve">normatizações</text>
<text x="675" y="345.2" font-family="'Liberation Serif', serif" font-size="13.8" font-weight="400" fill="#0a0a0a" letter-spacing="0" stroke="#0a0a0a" stroke-width="0.18" text-anchor="middle" xml:space="preserve">Novas estruturas são</text>
<text x="675.8" y="361" font-family="'Liberation Serif', serif" font-size="13.8" font-weight="400" fill="#0a0a0a" letter-spacing="0" stroke="#0a0a0a" stroke-width="0.18" text-anchor="middle" xml:space="preserve">sustentáveis temporariamente</text>
<text x="258.5" y="424.5" font-family="'Liberation Serif', serif" font-size="13.8" font-weight="400" fill="#0a0a0a" letter-spacing="0" stroke="#0a0a0a" stroke-width="0.18" text-anchor="middle" xml:space="preserve">Serviços ao Estudante</text>
<text x="258.5" y="458" font-family="'Liberation Serif', serif" font-size="13.8" font-weight="400" fill="#0a0a0a" letter-spacing="0" stroke="#0a0a0a" stroke-width="0.18" text-anchor="middle" xml:space="preserve">Pessoal</text>
<text x="465.4" y="424.5" font-family="'Liberation Serif', serif" font-size="13.8" font-weight="400" fill="#0a0a0a" letter-spacing="0" stroke="#0a0a0a" stroke-width="0.18" text-anchor="middle" xml:space="preserve">Organização</text>
<text x="465.2" y="458" font-family="'Liberation Serif', serif" font-size="13.8" font-weight="400" fill="#0a0a0a" letter-spacing="0" stroke="#0a0a0a" stroke-width="0.18" text-anchor="middle" xml:space="preserve">Infraestrutura</text>
<text x="684.5" y="424.5" font-family="'Liberation Serif', serif" font-size="13.8" font-weight="400" fill="#0a0a0a" letter-spacing="0" stroke="#0a0a0a" stroke-width="0.18" text-anchor="middle" xml:space="preserve">Planejamento</text></g>
</svg>
</body></html>
